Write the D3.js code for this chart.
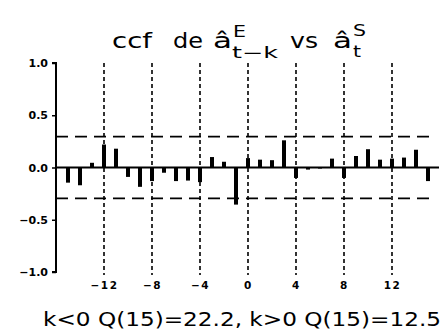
<!DOCTYPE html>
<html><head><meta charset="utf-8">
<script src="https://cdn.jsdelivr.net/npm/d3@7"></script>
<style>body{margin:0;background:#fff}svg{display:block}</style>
</head><body>
<script>
const lags = [-15,-14,-13,-12,-11,-10,-9,-8,-7,-6,-5,-4,-3,-2,-1,0,1,2,3,4,5,6,7,8,9,10,11,12,13,14,15];
const ccf  = [-0.145,-0.17,0.045,0.22,0.18,-0.09,-0.185,-0.13,-0.05,-0.13,-0.125,-0.14,0.10,0.055,-0.355,0.09,0.075,0.07,0.26,-0.10,-0.02,-0.01,0.085,-0.10,0.11,0.175,0.075,0.085,0.095,0.17,-0.13];
const bandLimit = 0.295;
const xTicks = [-12,-8,-4,0,4,8,12];
const yTicks = [1.0,0.5,0.0,-0.5,-1.0];
const yTickLabels = ["1.0","0.5","0.0","\u22120.5","\u22121.0"];
const xTickLabels = ["\u221212","\u22128","\u22124","0","4","8","12"];

const W=443,H=333;
const svg=d3.select("body").append("svg").attr("width",W).attr("height",H);
const x=d3.scaleLinear().domain([-15,15]).range([68,428]);
const y=d3.scaleLinear().domain([-1,1]).range([272,63]);
const axisX=56;

// vertical dashed lines
svg.selectAll("line.v").data(xTicks).join("line")
  .attr("x1",d=>x(d)).attr("x2",d=>x(d)).attr("y1",y(1)).attr("y2",275)
  .attr("stroke","#000").attr("stroke-width",1.6).attr("stroke-dasharray","4,3");
// horizontal dashed lines
svg.selectAll("line.h").data([bandLimit,-bandLimit]).join("line")
  .attr("x1",axisX).attr("x2",432).attr("y1",d=>y(d)).attr("y2",d=>y(d))
  .attr("stroke","#000").attr("stroke-width",1.6).attr("stroke-dasharray","12,7");
// zero line
svg.append("line").attr("x1",axisX).attr("x2",439).attr("y1",y(0)).attr("y2",y(0))
  .attr("stroke","#000").attr("stroke-width",2);
// bars
svg.selectAll("rect.bar").data(lags.map((l,i)=>({l,v:ccf[i]}))).join("rect")
  .attr("x",d=>x(d.l)-2).attr("width",4)
  .attr("y",d=>Math.min(y(0),y(d.v))).attr("height",d=>Math.abs(y(d.v)-y(0)))
  .attr("fill","#000");
// y axis
const yAxis=d3.axisLeft(y).tickValues(yTicks).tickSize(4).tickPadding(4)
  .tickFormat((d,i)=>yTickLabels[i]);
const gy=svg.append("g").attr("transform",`translate(${axisX},0)`).call(yAxis);
gy.select(".domain").attr("stroke-width",2).attr("d",`M-4,${y(1)}H0V${y(-1)}H-4`);
gy.selectAll(".tick line").attr("stroke-width",1.5);
gy.selectAll(".tick text").attr("font-family","DejaVu Sans").attr("font-weight","bold").attr("font-size",11).attr("fill","#000");
// x tick labels
const xAxis=d3.axisBottom(x).tickValues(xTicks).tickSize(0).tickPadding(0).tickFormat((d,i)=>xTickLabels[i]);
const gx=svg.append("g").attr("transform","translate(0,282)").call(xAxis);
gx.select(".domain").remove();
gx.selectAll(".tick text").attr("font-family","DejaVu Sans").attr("font-weight","bold").attr("font-size",10.5).attr("letter-spacing",1.5).attr("fill","#000");

// title
const tf="DejaVu Sans";
function t(str,xx,yy,fs,len){svg.append("text").attr("x",xx).attr("y",yy).attr("font-family",tf).attr("font-size",fs)
  .attr("textLength",len).attr("lengthAdjust","spacingAndGlyphs").text(str);}
t("ccf",112,48,21,40);
t("de",173,48,21,30);
t("\u00e2",213,48,21,19);
t("E",233,37,15,13);
t("t\u2212k",232,58,15,46);
t("vs",290,48,21,28);
t("\u00e2",333,48,21,19);
t("S",353,36,15,13);
t("t",353,57,15,8);
// footer
svg.append("text").attr("x",43).attr("y",326).attr("font-family",tf).attr("font-size",19)
  .attr("textLength",398).attr("lengthAdjust","spacingAndGlyphs").text("k<0 Q(15)=22.2, k>0 Q(15)=12.5");
</script>
</body></html>
